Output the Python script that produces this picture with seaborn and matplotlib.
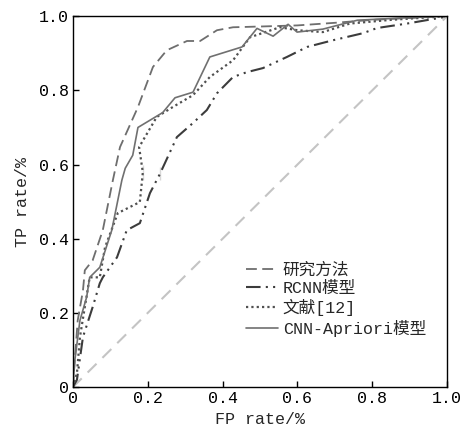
import numpy as np
import pandas as pd
import matplotlib
matplotlib.use('Agg')
import matplotlib.pyplot as plt
import seaborn as sns

sns.set_style('white')
plt.rcParams['font.family'] = ['Liberation Mono', 'Noto Sans CJK SC', 'DejaVu Sans']

# ── 数据 ────────────────────────────────
fpr_research = [0, 0.005, 0.013, 0.027, 0.032, 0.053, 0.08, 0.107, 0.126, 0.174, 0.214,
                0.251, 0.305, 0.34, 0.385, 0.428, 0.5, 0.6, 0.7, 0.8, 0.9, 1.0]
tpr_research = [0, 0.07, 0.18, 0.26, 0.315, 0.342, 0.423, 0.558, 0.647, 0.755, 0.863,
                0.908, 0.933, 0.933, 0.962, 0.97, 0.972, 0.975, 0.982, 0.99, 0.995, 1.0]

fpr_rcnn = [0, 0.011, 0.027, 0.053, 0.072, 0.08, 0.118, 0.144, 0.179, 0.206, 0.233, 0.233,
            0.278, 0.321, 0.358, 0.385, 0.428, 0.465, 0.508, 0.572, 0.626, 0.695, 0.775,
            0.813, 0.893, 0.99, 1.0]
tpr_rcnn = [0, 0.02, 0.135, 0.216, 0.28, 0.296, 0.35, 0.423, 0.442, 0.523, 0.558, 0.593,
            0.674, 0.712, 0.747, 0.792, 0.836, 0.849, 0.86, 0.89, 0.917, 0.935, 0.954,
            0.968, 0.98, 0.997, 1.0]

fpr_lit12 = [0, 0.011, 0.019, 0.032, 0.045, 0.072, 0.086, 0.12, 0.179, 0.187, 0.187, 0.177,
             0.224, 0.267, 0.321, 0.366, 0.428, 0.473, 0.553, 0.6, 0.668, 0.74, 0.85, 1.0]
tpr_lit12 = [0, 0.038, 0.135, 0.216, 0.296, 0.296, 0.377, 0.469, 0.499, 0.558, 0.6, 0.647,
             0.728, 0.755, 0.787, 0.836, 0.881, 0.943, 0.97, 0.962, 0.957, 0.98, 0.99, 1.0]

fpr_cnnap = [0, 0.005, 0.019, 0.037, 0.045, 0.072, 0.104, 0.131, 0.14, 0.16, 0.174, 0.24,
             0.273, 0.321, 0.366, 0.452, 0.492, 0.535, 0.575, 0.599, 0.668, 0.76, 0.88, 1.0]
tpr_cnnap = [0, 0.07, 0.18, 0.243, 0.296, 0.323, 0.423, 0.558, 0.59, 0.625, 0.70, 0.74,
             0.78, 0.795, 0.89, 0.917, 0.967, 0.946, 0.978, 0.957, 0.965, 0.989, 0.995, 1.0]

labels = ['研究方法', 'RCNN模型', '文献[12]', 'CNN-Apriori模型']
ticks = [0, 0.2, 0.4, 0.6, 0.8, 1.0]
tick_labels = ['0', '0.2', '0.4', '0.6', '0.8', '1.0']

series = [
    (fpr_research, tpr_research, '#6e6e6e', (6, 3), 1.3),
    (fpr_rcnn, tpr_rcnn, '#3c3c3c', (7, 2.5, 1, 2.5, 1, 2.5), 1.5),
    (fpr_lit12, tpr_lit12, '#505050', (1, 1.4), 1.6),
    (fpr_cnnap, tpr_cnnap, '#707070', '', 1.2),
]

fig = plt.figure(figsize=(4.61, 4.36), dpi=100)
ax = fig.add_axes([0.158, 0.112, 0.812, 0.851])

# 对角参考线
ax.plot([0, 1], [0, 1], color='#c4c4c4', lw=1.5, dashes=(6, 4), zorder=1)

for (x, y, c, d, lw), lab in zip(series, labels):
    df = pd.DataFrame({'x': x, 'y': y})
    sns.lineplot(data=df, x='x', y='y', sort=False, ax=ax, color=c, lw=lw, label=lab)
    line = ax.lines[-1]
    if d:
        line.set_dashes(d)

ax.set_xlim(0, 1)
ax.set_ylim(0, 1)
ax.set_xticks(ticks)
ax.set_xticklabels(tick_labels)
ax.set_yticks(ticks)
ax.set_yticklabels(tick_labels)
ax.tick_params(direction='in', length=4, width=1, labelsize=12, colors='black',
               bottom=True, left=True, top=False, right=False, pad=3)
for s in ax.spines.values():
    s.set_color('black')
    s.set_linewidth(1.0)
ax.set_xlabel('FP rate/%', fontsize=12, labelpad=4)
ax.set_ylabel('TP rate/%', fontsize=12, labelpad=6)

leg = ax.legend(loc='lower right', bbox_to_anchor=(0.975, 0.105), frameon=False, fontsize=12,
                handlelength=1.9, handletextpad=0.3, labelspacing=0.2, borderpad=0.2)

fig.savefig('out.png', dpi=100)
